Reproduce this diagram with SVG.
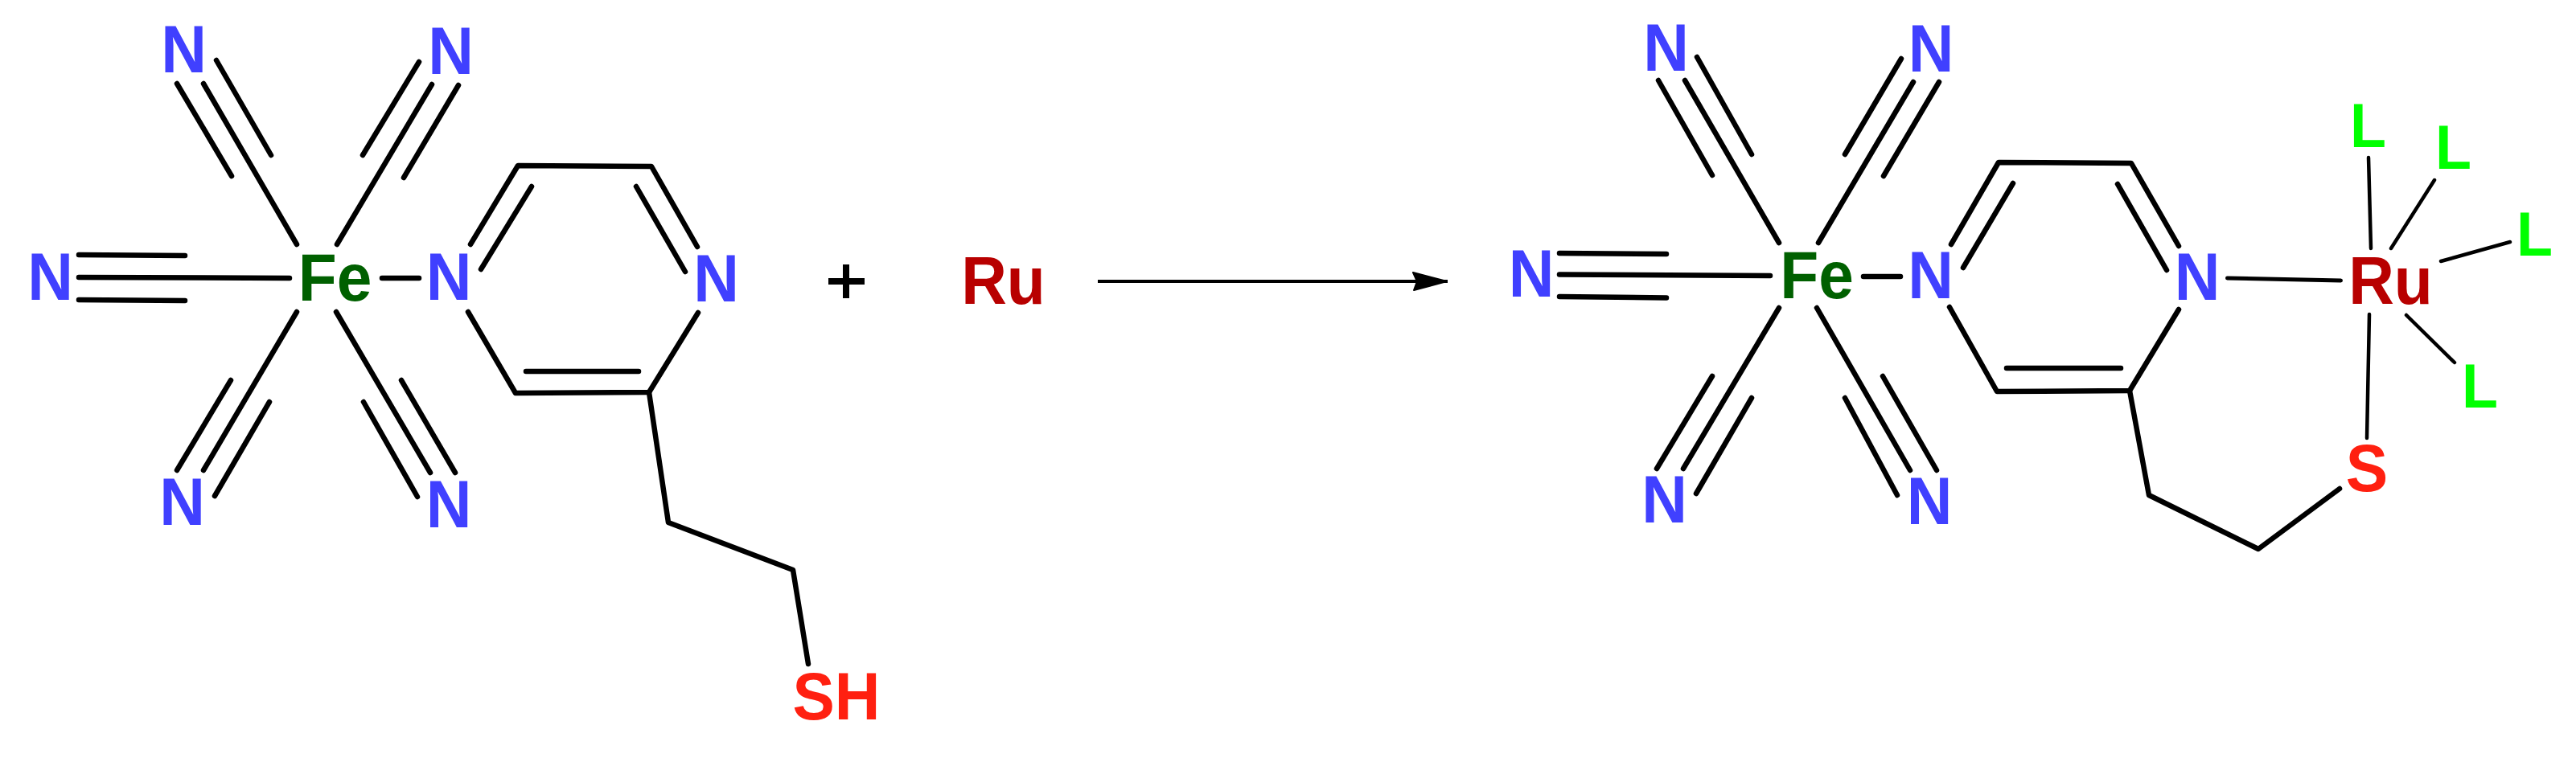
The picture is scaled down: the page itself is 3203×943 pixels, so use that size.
<svg xmlns="http://www.w3.org/2000/svg" width="3203" height="943" viewBox="0 0 3203 943">
<style>
text{font-family:"Liberation Sans",Arial,sans-serif;font-weight:700;font-size:84px;text-anchor:middle}
.n{fill:#4040ff}.fe{fill:#006000}.ru{fill:#b80000}.s{fill:#ff2010}.l{fill:#00ff00;font-size:77px}
line,polyline{stroke:#000;stroke-width:6.500;stroke-linecap:round;stroke-linejoin:round;fill:none}
.t{stroke-width:4.500}
</style>
<defs><marker id="head" markerUnits="userSpaceOnUse" markerWidth="50" markerHeight="30" refX="45" refY="15" orient="auto"><path d="M2 4L44 15L3 26L7 15Z" fill="#000" stroke="#000" stroke-width="2" stroke-linejoin="round"/></marker></defs>
<rect width="3203" height="943" fill="#fff"/>
<g id="connectors">
<line x1="369" y1="304" x2="253" y2="104"/><line x1="220" y1="104" x2="288" y2="219"/><line x1="269" y1="75" x2="337" y2="193"/>
<line x1="419" y1="304" x2="537" y2="105"/><line x1="451" y1="193" x2="521" y2="77"/><line x1="502" y1="221" x2="570" y2="106"/>
<line x1="360" y1="346" x2="98" y2="345"/><line x1="98" y1="317" x2="230" y2="318"/><line x1="98" y1="373" x2="230" y2="374"/>
<line x1="369" y1="388" x2="253" y2="585"/><line x1="220" y1="585" x2="287" y2="473"/><line x1="267" y1="617" x2="335" y2="500"/>
<line x1="418" y1="388" x2="535" y2="588"/><line x1="452" y1="500" x2="519" y2="618"/><line x1="499" y1="473" x2="566" y2="588"/>
<line x1="475" y1="346" x2="521" y2="346"/>
<polyline points="585,304 644,206 810,207 867,307"/><line x1="598" y1="335" x2="661" y2="232"/><line x1="791" y1="232" x2="852" y2="338"/>
<polyline points="582,388 641,489 807,488 868,389"/><line x1="654" y1="462" x2="794" y2="462"/>
<polyline points="807,488 831,650 986,709 1005,826"/>
<line x1="1030" y1="350" x2="1075" y2="350" style="stroke-width:8;stroke-linecap:butt"/><line x1="1052" y1="329" x2="1052" y2="371" style="stroke-width:8;stroke-linecap:butt"/>
<line x1="1365" y1="350" x2="1800" y2="350" marker-end="url(#head)" style="stroke-width:4;stroke-linecap:butt"/>
<line x1="2212" y1="302" x2="2095" y2="100"/><line x1="2062" y1="100" x2="2129" y2="218"/><line x1="2110" y1="71" x2="2178" y2="192"/>
<line x1="2261" y1="302" x2="2379" y2="102"/><line x1="2294" y1="192" x2="2364" y2="73"/><line x1="2342" y1="219" x2="2411" y2="102"/>
<line x1="2201" y1="343" x2="1939" y2="341.500"/><line x1="1939" y1="315" x2="2072" y2="316"/><line x1="1939" y1="369" x2="2072" y2="370.500"/>
<line x1="2212" y1="383" x2="2093" y2="583"/><line x1="2060" y1="583" x2="2129" y2="468"/><line x1="2109" y1="614" x2="2178" y2="495"/>
<line x1="2259" y1="383" x2="2375" y2="585"/><line x1="2294" y1="495" x2="2359" y2="616"/><line x1="2341" y1="468" x2="2408" y2="585"/>
<line x1="2317" y1="344" x2="2363" y2="344"/>
<polyline points="2426,304 2485,202 2650,203 2709,306"/><line x1="2441" y1="333" x2="2503" y2="228"/><line x1="2633" y1="229" x2="2694" y2="336"/>
<polyline points="2424,382 2483,487 2648,486 2709,385"/><line x1="2495" y1="458" x2="2637" y2="458"/>
<polyline points="2648,486 2672,616 2808,683 2909,608"/>
<line x1="2769.500" y1="346" x2="2910.500" y2="349" style="stroke-width:5"/>
<line class="t" x1="2945" y1="196" x2="2948" y2="309"/><line class="t" x1="2973" y1="309" x2="3027" y2="224"/>
<line class="t" x1="3035" y1="325" x2="3121" y2="301"/><line class="t" x1="2992" y1="392" x2="3052" y2="451"/>
<line class="t" x1="2946" y1="391" x2="2943" y2="545"/>
</g>
<g id="fe1"><text class="fe" x="416.500" y="374" textLength="91.600" lengthAdjust="spacingAndGlyphs">Fe</text></g>
<g id="n1"><text class="n" x="228.500" y="90" textLength="56.700" lengthAdjust="spacingAndGlyphs">N</text></g>
<g id="n2"><text class="n" x="560.500" y="92" textLength="56.700" lengthAdjust="spacingAndGlyphs">N</text></g>
<g id="n3"><text class="n" x="62.500" y="373" textLength="56.700" lengthAdjust="spacingAndGlyphs">N</text></g>
<g id="n4"><text class="n" x="226.500" y="653" textLength="56.700" lengthAdjust="spacingAndGlyphs">N</text></g>
<g id="n5"><text class="n" x="558" y="656" textLength="56.700" lengthAdjust="spacingAndGlyphs">N</text></g>
<g id="n6"><text class="n" x="558" y="373" textLength="56.700" lengthAdjust="spacingAndGlyphs">N</text></g>
<g id="n7"><text class="n" x="890.500" y="375" textLength="56.700" lengthAdjust="spacingAndGlyphs">N</text></g>
<g id="sh"><text class="s" x="1040" y="895" textLength="109" lengthAdjust="spacingAndGlyphs">SH</text></g>
<g id="ru1"><text class="ru" x="1247.500" y="378" textLength="104.700" lengthAdjust="spacingAndGlyphs">Ru</text></g>
<g id="fe2"><text class="fe" x="2259" y="371" textLength="91.600" lengthAdjust="spacingAndGlyphs">Fe</text></g>
<g id="n8"><text class="n" x="2071.500" y="88" textLength="56.700" lengthAdjust="spacingAndGlyphs">N</text></g>
<g id="n9"><text class="n" x="2401" y="89" textLength="56.700" lengthAdjust="spacingAndGlyphs">N</text></g>
<g id="n10"><text class="n" x="1904" y="369" textLength="56.700" lengthAdjust="spacingAndGlyphs">N</text></g>
<g id="n11"><text class="n" x="2069.500" y="650" textLength="56.700" lengthAdjust="spacingAndGlyphs">N</text></g>
<g id="n12"><text class="n" x="2399" y="652" textLength="56.700" lengthAdjust="spacingAndGlyphs">N</text></g>
<g id="n13"><text class="n" x="2400.500" y="371" textLength="56.700" lengthAdjust="spacingAndGlyphs">N</text></g>
<g id="n14"><text class="n" x="2732" y="373" textLength="56.700" lengthAdjust="spacingAndGlyphs">N</text></g>
<g id="ru2"><text class="ru" x="2972.500" y="378" textLength="104.700" lengthAdjust="spacingAndGlyphs">Ru</text></g>
<g id="s"><text class="s" x="2943" y="611" textLength="52.400" lengthAdjust="spacingAndGlyphs">S</text></g>
<g id="l1"><text class="l" x="2944.500" y="183" textLength="45" lengthAdjust="spacingAndGlyphs">L</text></g>
<g id="l2"><text class="l" x="3050.500" y="210" textLength="45" lengthAdjust="spacingAndGlyphs">L</text></g>
<g id="l3"><text class="l" x="3151.500" y="318" textLength="45" lengthAdjust="spacingAndGlyphs">L</text></g>
<g id="l4"><text class="l" x="3083.500" y="507" textLength="45" lengthAdjust="spacingAndGlyphs">L</text></g>
</svg>
